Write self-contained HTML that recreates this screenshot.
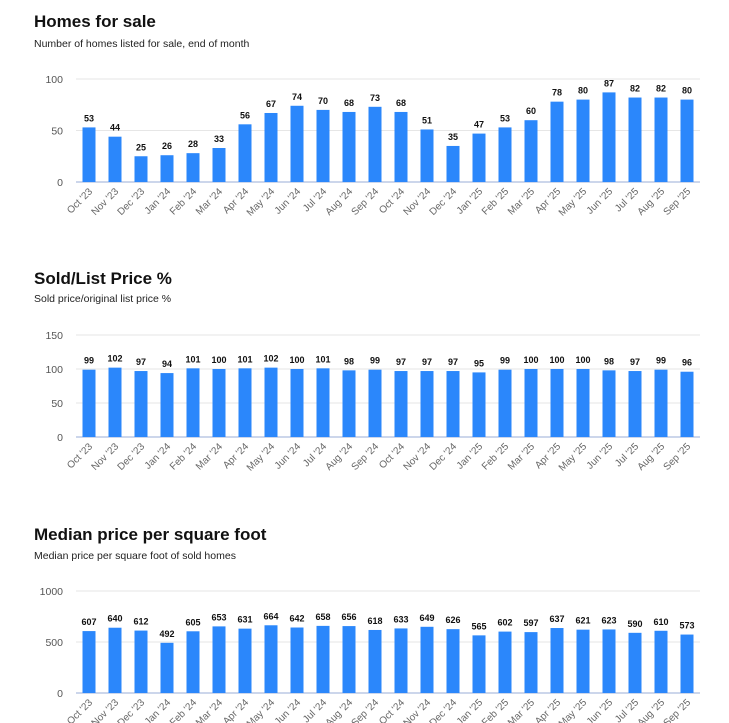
<!DOCTYPE html>
<html><head><meta charset="utf-8">
<style>
body{margin:0;background:#fff;font-family:"Liberation Sans",sans-serif;width:729px;height:723px;overflow:hidden;position:relative}
.t{position:absolute;left:34px;font-weight:bold;font-size:17px;color:#111}
.s{position:absolute;left:34px;font-size:10.5px;color:#222}
svg{position:absolute;left:0;top:0}
</style></head><body>
<div class="t" style="top:12px">Homes for sale</div>
<div class="s" style="top:38px">Number of homes listed for sale, end of month</div>
<div class="t" style="top:269px">Sold/List Price %</div>
<div class="s" style="top:293px">Sold price/original list price %</div>
<div class="t" style="top:525px">Median price per square foot</div>
<div class="s" style="top:550px">Median price per square foot of sold homes</div>
<svg id="c" width="729" height="723"></svg>
<script>
const categories=["Oct '23","Nov '23","Dec '23","Jan '24","Feb '24","Mar '24","Apr '24","May '24","Jun '24","Jul '24","Aug '24","Sep '24","Oct '24","Nov '24","Dec '24","Jan '25","Feb '25","Mar '25","Apr '25","May '25","Jun '25","Jul '25","Aug '25","Sep '25"];
const homesValues=[53,44,25,26,28,33,56,67,74,70,68,73,68,51,35,47,53,60,78,80,87,82,82,80];
const pctValues=[99,102,97,94,101,100,101,102,100,101,98,99,97,97,97,95,99,100,100,100,98,97,99,96];
const ppsfValues=[607,640,612,492,605,653,631,664,642,658,656,618,633,649,626,565,602,597,637,621,623,590,610,573];
const homesTicks=[0,50,100];
const pctTicks=[0,50,100,150];
const ppsfTicks=[0,500,1000];
const svg=document.getElementById('c');
const NS='http://www.w3.org/2000/svg';
function mk(tag,attrs,parent){const e=document.createElementNS(NS,tag);for(const k in attrs)e.setAttribute(k,attrs[k]);(parent||svg).appendChild(e);return e;}
const X0=76,X1=700;
function xc(i){return X0+(X1-X0)/categories.length*(i+0.5);}
function draw(name,vals,ticks,y0,yTop){
  const max=ticks[ticks.length-1];
  const y=v=>y0-(y0-yTop)*v/max;
  const g=mk('g',{});
  
  
  ticks.forEach(t=>{
    const l=mk('line',{x1:X0,x2:X1,y1:y(t),y2:y(t),stroke:t===0?'#ccd6eb':'#e6e6e6','stroke-width':t===0?2:1},g);
    
    
    const tx=mk('text',{x:63,y:y(t)+4,'text-anchor':'end','font-size':'10.5',fill:'#555'},g);
    tx.textContent=t;
    
    
  });
  vals.forEach((v,i)=>{
    const r=mk('rect',{x:xc(i)-6.5,y:y(v),width:13,height:y0-y(v),fill:'#2b87fb'},g);
    
    
    const t=mk('text',{x:xc(i),y:y(v)-6,'text-anchor':'middle','font-size':'9','font-weight':'bold',fill:'#111'},g);
    t.textContent=v;
    
    
    const lx=xc(i)+4,ly=y0+10;
    const c=mk('text',{x:lx,y:ly,'text-anchor':'end','font-size':'10',fill:'#666',transform:`rotate(-45 ${lx} ${ly})`},g);
    c.textContent=categories[i];
    
    
  });
}
draw('homes',homesValues,homesTicks,182,79);
draw('price-pct',pctValues,pctTicks,437,335);
draw('ppsf',ppsfValues,ppsfTicks,693,591);
</script>
</body></html>
